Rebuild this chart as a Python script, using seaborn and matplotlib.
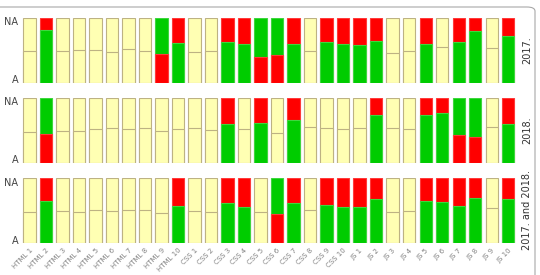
import pandas as pd
import numpy as np
import matplotlib
matplotlib.use("Agg")
import matplotlib.pyplot as plt
from matplotlib.patches import FancyBboxPatch
import seaborn as sns

sns.set_theme(style="white")
plt.rcParams['font.family'] = ['DejaVu Sans']

# items on the x axis
items = [f"HTML {i}" for i in range(1, 11)] + [f"CSS {i}" for i in range(1, 11)] + [f"JS {i}" for i in range(1, 11)]
panels = ["2017.", "2018.", "2017. and 2018."]

# share of answers "A" (bottom part of each bar), rest is "NA"
share_a_2017 = [0.48, 0.81, 0.49, 0.50, 0.50, 0.47, 0.52, 0.48, 0.44, 0.61,
                0.47, 0.48, 0.63, 0.60, 0.39, 0.43, 0.60, 0.49, 0.62, 0.60,
                0.57, 0.64, 0.46, 0.49, 0.59, 0.54, 0.63, 0.79, 0.53, 0.72]
share_a_2018 = [0.47, 0.44, 0.49, 0.48, 0.52, 0.53, 0.51, 0.53, 0.48, 0.52,
                0.53, 0.50, 0.60, 0.52, 0.61, 0.46, 0.65, 0.54, 0.53, 0.51,
                0.53, 0.73, 0.53, 0.52, 0.73, 0.76, 0.43, 0.40, 0.55, 0.59]
share_a_both = [0.48, 0.64, 0.49, 0.48, 0.51, 0.50, 0.51, 0.51, 0.46, 0.565,
                0.49, 0.48, 0.61, 0.56, 0.48, 0.45, 0.61, 0.51, 0.58, 0.555,
                0.555, 0.675, 0.48, 0.50, 0.645, 0.63, 0.565, 0.70, 0.54, 0.67]

# significant difference between A and NA (coloured green/red, else yellow)
sig_2017 = [0, 1, 0, 0, 0, 0, 0, 0, 1, 1,
            0, 0, 1, 1, 1, 1, 1, 0, 1, 1,
            1, 1, 0, 0, 1, 0, 1, 1, 0, 1]
sig_2018 = [0, 1, 0, 0, 0, 0, 0, 0, 0, 0,
            0, 0, 1, 0, 1, 0, 1, 0, 0, 0,
            0, 1, 0, 0, 1, 1, 1, 1, 0, 1]
sig_both = [0, 1, 0, 0, 0, 0, 0, 0, 0, 1,
            0, 0, 1, 1, 0, 1, 1, 0, 1, 1,
            1, 1, 0, 0, 1, 1, 1, 1, 0, 1]

YELLOW = '#FFFFB3'
YELLOW_EDGE = '#BDB283'
GREEN = '#00CC00'
RED = '#FF0000'
EDGE = {YELLOW: YELLOW_EDGE, GREEN: '#3ED63E', RED: '#FF3A3A'}

fig = plt.figure(figsize=(5.4, 2.75), dpi=100)

# rounded frame around the plot area
frame = FancyBboxPatch((-30 / 540, -20 / 275), 565 / 540, (275 - 7 + 20) / 275,
                       boxstyle="round,pad=0,rounding_size=0.015",
                       transform=fig.transFigure, fill=False,
                       edgecolor='#a8a8a8', linewidth=0.8, clip_on=False)
fig.patches.append(frame)

left = 21.25 / 540
width = (516.5 - 21.25) / 540
tops = [17.5, 97.5, 178.0]
height_px = 65.0

data = [(share_a_2017, sig_2017), (share_a_2018, sig_2018), (share_a_both, sig_both)]

for k, (title, (share, sig)) in enumerate(zip(panels, data)):
    bottom = 1 - (tops[k] + height_px) / 275
    ax = fig.add_axes([left, bottom, width, height_px / 275])

    col_a, col_na = [], []
    for a, s in zip(share, sig):
        if not s:
            col_a.append(YELLOW)
            col_na.append(YELLOW)
        elif a >= 0.5:
            col_a.append(GREEN)
            col_na.append(RED)
        else:
            col_a.append(RED)
            col_na.append(GREEN)

    df = pd.DataFrame({'item': items, 'A': share, 'total': 1.0})
    sns.barplot(data=df, x='item', y='total', hue='item', palette=col_na,
                legend=False, width=0.75, ax=ax, saturation=1)
    sns.barplot(data=df, x='item', y='A', hue='item', palette=col_a,
                legend=False, width=0.75, ax=ax, saturation=1)

    for p in ax.patches:
        fc = matplotlib.colors.to_hex(p.get_facecolor()).upper()
        p.set_edgecolor(EDGE.get(fc, fc))
        p.set_linewidth(0.8)

    ax.set_xlim(-0.5, len(items) - 0.5)
    ax.set_ylim(0, 1)
    for s in ax.spines.values():
        s.set_visible(False)
    ax.set_xlabel('')
    ax.set_ylabel('')
    ax.set_yticks([0.05, 0.94])
    ax.set_yticklabels(['A', 'NA'], fontsize=7, color='#444444')
    ax.tick_params(axis='y', length=0, pad=2)
    if k < 2:
        ax.set_xticks([])
    else:
        ax.set_xticks(range(len(items)))
        ax.set_xticklabels(items, rotation=45, ha='right', rotation_mode='anchor',
                           fontsize=5, color='#808080')
        ax.tick_params(axis='x', length=0, pad=3)

    ax.text(1.0 + 10.5 / (width * 540), 0.5, title, transform=ax.transAxes,
            rotation=90, ha='center', va='center', fontsize=7, color='#333333')

fig.savefig('out.png', dpi=100)
